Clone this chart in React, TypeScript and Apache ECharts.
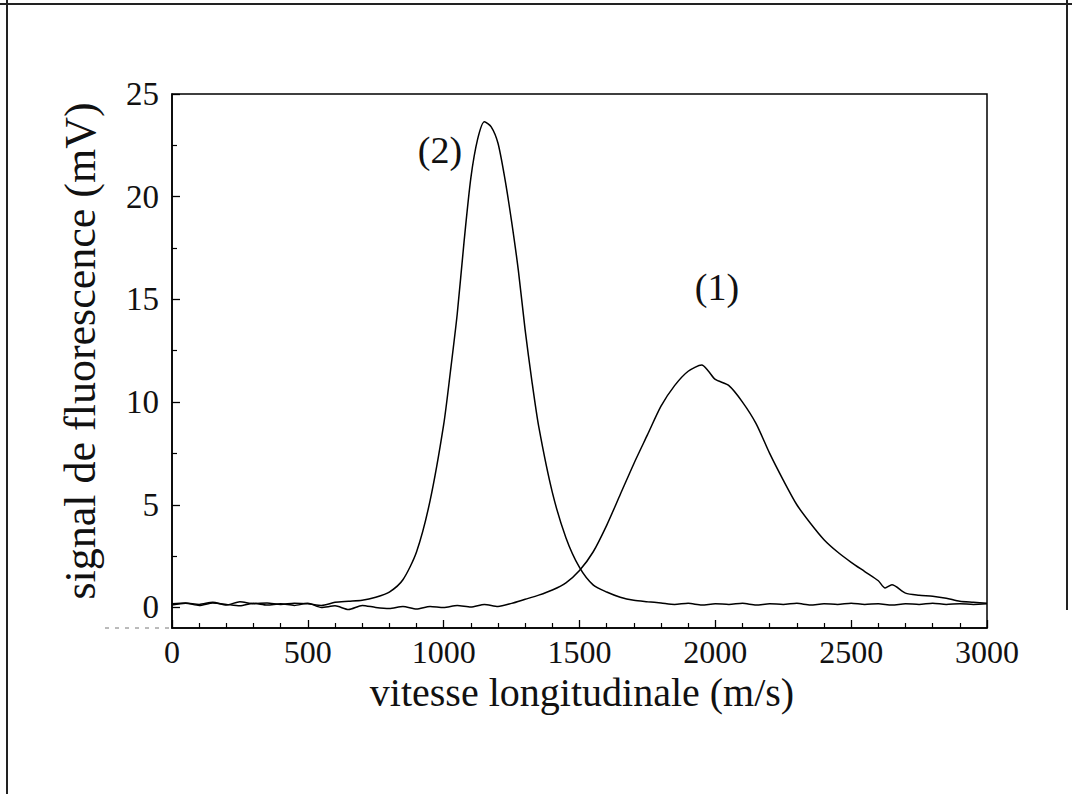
import React, { useEffect, useRef } from "react";
import * as echarts from "echarts";

// ---- Data ----
const xTicks = [0, 500, 1000, 1500, 2000, 2500, 3000];
const yTickLabels = [0, 5, 10, 15, 20, 25];
const yMinorTicks = [2.5, 7.5, 12.5, 17.5, 22.5];

// Curve (2): narrow peak near 1160 m/s
const speed2 = [
  0, 50, 100, 150, 200, 250, 300, 350, 400, 450, 500, 550, 600, 650, 700, 750, 800, 850, 900, 950,
  1000, 1025, 1050, 1075, 1100, 1125, 1150, 1175, 1200, 1225, 1250, 1275, 1300, 1325, 1350, 1400,
  1450, 1500, 1550, 1600, 1650, 1700, 1750, 1800, 1850, 1900, 1950, 2000, 2050, 2100, 2150, 2200,
  2250, 2300, 2350, 2400, 2450, 2500, 2550, 2600, 2650, 2700, 2750, 2800, 2850, 2900, 2950, 3000,
];
const signal2 = [
  0.18, 0.22, 0.15, 0.25, 0.12, 0.28, 0.18, 0.22, 0.15, 0.2, 0.18, 0.1, 0.25, 0.3, 0.35, 0.5, 0.75, 1.35, 2.7, 5.2,
  8.9, 11.5, 14.3, 17.8, 20.9, 22.8, 23.65, 23.4, 22.6, 20.9, 18.8, 16.4, 13.5, 11.0, 8.8, 5.6,
  3.4, 1.95, 1.1, 0.75, 0.5, 0.35, 0.28, 0.22, 0.15, 0.2, 0.12, 0.18, 0.15, 0.2, 0.12, 0.18,
  0.15, 0.2, 0.12, 0.18, 0.15, 0.2, 0.15, 0.18, 0.12, 0.18, 0.15, 0.2, 0.15, 0.18, 0.15, 0.18,
];

// Curve (1): broad peak near 1950 m/s
const speed1 = [
  0, 50, 100, 150, 200, 250, 300, 350, 400, 450, 500, 550, 600, 650, 700, 750, 800, 850, 900, 950,
  1000, 1050, 1100, 1150, 1200, 1250, 1300, 1350, 1400, 1450, 1500, 1550, 1600, 1650, 1700, 1750,
  1800, 1850, 1900, 1950, 1975, 2000, 2050, 2100, 2150, 2200, 2250, 2300, 2350, 2400, 2450, 2500,
  2550, 2600, 2625, 2650, 2700, 2750, 2800, 2850, 2900, 2950, 3000,
];
const signal1 = [
  0.12, 0.2, 0.1, 0.22, 0.15, 0.08, 0.2, 0.12, 0.18, 0.1, 0.2, 0.0, 0.08, -0.1, 0.1, 0.0, -0.05, 0.05, -0.08, 0.05,
  0.0, 0.1, 0.02, 0.15, 0.05, 0.2, 0.4, 0.6, 0.85, 1.2, 1.8, 2.7, 4.0, 5.5, 7.0, 8.4,
  9.8, 10.8, 11.5, 11.8, 11.5, 11.1, 10.8, 10.0, 8.95, 7.5, 6.2, 5.0, 4.1, 3.3, 2.7, 2.2,
  1.75, 1.3, 0.95, 1.1, 0.7, 0.6, 0.55, 0.45, 0.3, 0.25, 0.2,
];

const xTitle = "vitesse longitudinale (m/s)";
const yTitle = "signal de fluorescence (mV)";
const curveLabels = ["(1)", "(2)"];

const FONT = "Liberation Serif";

export default function App() {
  const ref = useRef<HTMLDivElement>(null);

  useEffect(() => {
    document.body.style.margin = "0";
    const chart = echarts.init(ref.current!, null, { renderer: "svg" });
    const pairs = (xs: number[], ys: number[]) => xs.map((x, i) => [x, ys[i]]);

    chart.setOption({
      animation: false,
      backgroundColor: "#fff",
      grid: {
        left: 172,
        top: 94,
        right: 85,
        bottom: 166,
        show: true,
        borderColor: "#000",
        borderWidth: 1.5,
        outerBoundsMode: "none",
      },
      xAxis: {
        type: "value",
        min: 0,
        max: 3000,
        interval: 500,
        axisLine: { show: true, onZero: false, lineStyle: { color: "#000", width: 1.5 } },
        axisTick: { show: true, inside: true, length: 8, lineStyle: { color: "#000", width: 1.3 } },
        minorTick: { show: true, splitNumber: 5, length: 5, lineStyle: { color: "#000", width: 1.2 } },
        splitLine: { show: false },
        axisLabel: {
          color: "#111",
          fontFamily: FONT,
          fontSize: 32,
          margin: 8,
          formatter: (v: number) => (xTicks.includes(v) ? String(v) : ""),
        },
      },
      yAxis: [
        {
          type: "value",
          min: -1,
          max: 25,
          position: "left",
          axisLine: { show: true, onZero: false, lineStyle: { color: "#000", width: 1.5 } },
          axisTick: { show: true, inside: true, length: 8, customValues: yTickLabels, lineStyle: { color: "#000", width: 1.3 } },
          splitLine: { show: false },
          axisLabel: {
            color: "#111",
            fontFamily: FONT,
            fontSize: 33,
            margin: 13,
            customValues: yTickLabels,
          },
        },
        {
          type: "value",
          min: -1,
          max: 25,
          position: "left",
          axisLine: { show: false, onZero: false },
          axisTick: { show: true, inside: true, length: 5, customValues: yMinorTicks, lineStyle: { color: "#000", width: 1.2 } },
          splitLine: { show: false },
          axisLabel: { show: false },
        },
      ],
      series: [
        {
          name: curveLabels[0],
          type: "line",
          data: pairs(speed1, signal1),
          showSymbol: false,
          smooth: 0.25,
          lineStyle: { color: "#000", width: 1.5 },
          yAxisIndex: 0,
        },
        {
          name: curveLabels[1],
          type: "line",
          data: pairs(speed2, signal2),
          showSymbol: false,
          smooth: 0.25,
          lineStyle: { color: "#000", width: 1.5 },
          yAxisIndex: 0,
        },
      ],
      graphic: [
        { type: "line", shape: { x1: 7, y1: 0, x2: 7, y2: 794 }, style: { stroke: "#222", lineWidth: 2 } },
        { type: "line", shape: { x1: 0, y1: 4, x2: 1072, y2: 4 }, style: { stroke: "#222", lineWidth: 2 } },
        { type: "line", shape: { x1: 1067, y1: 0, x2: 1067, y2: 610 }, style: { stroke: "#222", lineWidth: 2 } },
        {
          type: "line",
          shape: { x1: 105, y1: 628, x2: 171, y2: 628 },
          style: { stroke: "#777", lineWidth: 1, lineDash: [4, 6] },
        },
        {
          type: "text",
          x: 80,
          y: 351,
          rotation: Math.PI / 2,
          style: {
            text: yTitle,
            fontFamily: FONT,
            fontSize: 44,
            fill: "#111",
            textAlign: "center",
            textVerticalAlign: "middle",
          },
        },
        {
          type: "text",
          x: 582,
          y: 692,
          style: {
            text: xTitle,
            fontFamily: FONT,
            fontSize: 40,
            fill: "#111",
            textAlign: "center",
            textVerticalAlign: "middle",
          },
        },
        {
          type: "text",
          x: 440,
          y: 150,
          style: { text: curveLabels[1], fontFamily: FONT, fontSize: 38, fill: "#111", textAlign: "center", textVerticalAlign: "middle" },
        },
        {
          type: "text",
          x: 717,
          y: 287,
          style: { text: curveLabels[0], fontFamily: FONT, fontSize: 38, fill: "#111", textAlign: "center", textVerticalAlign: "middle" },
        },
      ],
    });
    return () => chart.dispose();
  }, []);

  return (
    <div
      ref={ref}
      style={{ position: "fixed", left: 0, top: 0, width: 1072, height: 794, background: "#fff" }}
    />
  );
}
